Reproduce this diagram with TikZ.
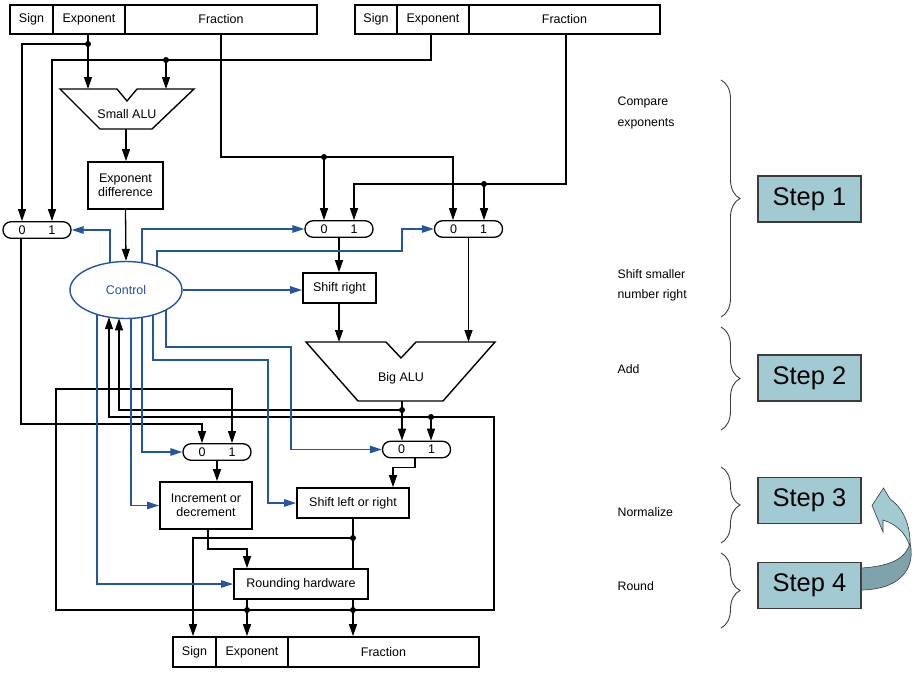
\documentclass[tikz,border=0pt]{standalone}
\usepackage{fontspec}
\setmainfont{Liberation Sans}
\usetikzlibrary{arrows.meta,calc,shapes.geometric,decorations.pathreplacing}
\definecolor{cblue}{RGB}{35,85,160}
\definecolor{stepfill}{RGB}{161,202,211}
\definecolor{stepdark}{RGB}{127,163,172}
\definecolor{braceg}{RGB}{60,60,60}
\begin{document}
\begin{tikzpicture}[x=1pt,y=-1pt,
  line width=1.3pt,
  font=\fontsize{12.5}{14.5}\selectfont,
  reg/.style={draw,line width=1.8pt,minimum height=29pt,inner sep=0pt},
  box/.style={draw,line width=1.8pt,inner sep=0pt,align=center,fill=white},
  mux/.style={draw,line width=1.3pt,rounded corners=8pt,minimum width=68pt,minimum height=16.5pt,inner sep=0pt,fill=white},
  arr/.style={-{Triangle[length=12pt,width=8pt]}},
  barr/.style={draw=cblue,-{Triangle[length=12pt,width=7.5pt,fill=cblue]}},
  dot/.style={circle,fill,inner sep=0pt,minimum size=6pt},
  stepbox/.style={draw=braceg,line width=1.3pt,fill=stepfill,minimum width=103pt,minimum height=46pt,inner sep=0pt,font=\fontsize{25.5}{28}\selectfont},
  lab/.style={anchor=west,align=left,inner sep=0pt,font=\fontsize{12.3}{20.5}\selectfont},
  brc/.style={decorate,decoration={brace,amplitude=19pt},line width=0.9pt,draw=braceg}
]
\useasboundingbox (0,0) rectangle (916,675);

% ---------- registers ----------
\node[reg,minimum width=43pt] (r1s) at (31.5,19.5) {Sign};
\node[reg,minimum width=72pt] (r1e) at (89,19.5) {Exponent};
\node[reg,minimum width=192pt] (r1f) at (221,19.5) {Fraction};
\node[reg,minimum width=42pt] (r2s) at (376,19.5) {Sign};
\node[reg,minimum width=72pt] (r2e) at (433,19.5) {Exponent};
\node[reg,minimum width=191pt] (r2f) at (564.5,19.5) {Fraction};
\node[reg,minimum width=43pt,minimum height=30pt] (r3s) at (194.5,652) {Sign};
\node[reg,minimum width=72pt,minimum height=30pt] (r3e) at (252,652) {Exponent};
\node[reg,minimum width=191pt,minimum height=30pt] (r3f) at (383.5,652) {Fraction};

% ---------- ALUs ----------
\draw[line width=1.4pt] (60,89) -- (117,89) -- (127,101) -- (137,89) -- (194,89) -- (152,129) -- (100,129) -- cycle;
\node (salu) at (127,114) {Small ALU};
\coordinate (saluL) at (88,89);
\coordinate (saluR) at (166,89);
\coordinate (saluO) at (126,129);
\draw[line width=1.4pt] (306,342) -- (386,342) -- (401,358) -- (416,342) -- (495,342) -- (443,401) -- (358,401) -- cycle;
\node (balu) at (401,378) {Big ALU};
\coordinate (baluO) at (402,401);

% ---------- boxes ----------
\node[box,minimum width=75pt,minimum height=47pt] (ediff) at (125.5,185.5) {Exponent\\difference};
\node[ellipse,draw=cblue,line width=1.4pt,minimum width=112pt,minimum height=57pt,inner sep=0pt,text=cblue,fill=white] (ctrl) at (126,290) {Control};
\node[box,minimum width=73pt,minimum height=30pt] (shr) at (339.5,288) {Shift right};
\node[box,minimum width=92pt,minimum height=47pt] (incdec) at (206,505.5) {Increment or\\decrement};
\node[box,minimum width=112pt,minimum height=30pt] (shlr) at (353,503) {Shift left or right};
\node[box,minimum width=134pt,minimum height=30pt] (rnd) at (301,584) {Rounding hardware};

% ---------- multiplexors ----------
\node[mux] (m1) at (37,230) {0\hspace{23pt}1};
\node[mux] (m2) at (339,229) {0\hspace{23pt}1};
\node[mux] (m3) at (468.5,229) {0\hspace{23pt}1};
\node[mux] (m4) at (416.5,449.5) {0\hspace{23pt}1};
\node[mux] (m5) at (217,452) {0\hspace{23pt}1};

% ---------- junctions ----------
\coordinate (j1) at (88,44);
\coordinate (j2) at (166,60);
\coordinate (j3) at (324,157);
\coordinate (j4) at (484,184);
\coordinate (j5) at (402,410);
\coordinate (j6) at (247,610);
\coordinate (j7) at (353,610);
\coordinate (j8) at (431,417);
\coordinate (j9) at (353,538);
\coordinate (cin1) at ($(ctrl.center)+(-7,28.3)$);
\coordinate (cin2) at ($(ctrl.center)+(-17,27.2)$);
\coordinate (k1) at (21,424);
\coordinate (k2) at (56,610);
\coordinate (k3) at (56,389);
\coordinate (k4) at (494,610);
\coordinate (k5) at (494,417);

% ---------- black connectors ----------
\draw[arr] (r1e.south -| j1) -- (j1) -- (saluL);
\draw[arr] (j1) -| ($(m1.north)+(-15,0)$);
\draw[arr] ($(r2e.south)+(-2,0)$) |- (j2) -| ($(m1.north)+(15,0)$);
\draw[arr] (j2) -- (saluR);
\draw[arr] (saluO) -- (saluO |- ediff.north);
\draw[arr] (ediff.south) -- (ctrl.north);
\draw[arr] (r1f.south) |- (j3) -| ($(m3.north)+(-15.5,0)$);
\draw[arr] (j3) -- ($(m2.north)+(-15,0)$);
\draw[arr] ($(r2f.south)+(1.5,0)$) |- (j4) -| ($(m2.north)+(15,0)$);
\draw[arr] (j4) -- ($(m3.north)+(15.5,0)$);
\draw[arr] (m2.south) -- (m2.south |- shr.north);
\draw[arr] (m3.south) -- (m3.south |- 0,342);
\draw[arr] (shr.south -| m2.south) -- (m2.south |- 0,342);
\draw[arr] (baluO) -- ($(m4.north)+(-14.5,0)$);
\draw[arr] (j5) -| (cin1);
\draw[arr] ($(m1.south)+(-16,0)$) -- (k1) -| ($(m5.north)+(-15,0)$);
\draw (j6) -- (j7);
\draw[arr] (j6) -- (k2) -- (k3) -| ($(m5.north)+(15,0)$);
\draw[arr] (j7) -- (k4) -- (k5) -| (cin2);
\draw[arr] (j8) -- ($(m4.north)+(14.5,0)$);
\draw[arr] (m5.south) -- (m5.south |- incdec.north);
\draw[arr] ($(m4.south)+(-1.5,0)$) -- ++(0,9) -| ($(shlr.north)+(40,0)$);
\draw[arr] ($(incdec.south)+(2,0)$) -- ++(0,19) -| ($(rnd.north)+(-54,0)$);
\draw[line width=1.8pt] (shlr.south) -- (shlr.south |- rnd.north);
\draw[arr] (j9) -| ($(r3s.north)+(-1.5,0)$);
\draw[arr] ($(rnd.south)+(-54,0)$) -- ($(r3e.north)+(-5,0)$);
\draw[arr] ($(rnd.south)+(52,0)$) -- ($(r3f.north)+(-30.5,0)$);
\foreach \j in {j1,j2,j3,j4,j5,j6,j7,j8,j9} \node[dot] at (\j) {};

% ---------- control (blue) connectors ----------
\coordinate (b3) at (402,251);
\coordinate (b8) at (268,360);
\coordinate (b9) at (291,347);
\draw[barr] ($(ctrl.center)+(-16,-27.3)$) |- (m1.east);
\draw[barr] ($(ctrl.center)+(16,-27.3)$) |- (m2.west);
\draw[barr] ($(ctrl.center)+(31,-23.7)$) |- (b3) |- (m3.west);
\draw[barr] (ctrl.east) -- (ctrl.east -| shr.west);
\draw[barr] ($(ctrl.center)+(-29,24.4)$) |- (rnd.west);
\draw[barr] ($(ctrl.center)+(5,28.4)$) |- (incdec.west);
\draw[barr] ($(ctrl.center)+(16,27.3)$) |- (m5.west);
\draw[barr] ($(ctrl.center)+(27,25)$) |- (b8) |- (shlr.west);
\draw[barr] ($(ctrl.center)+(40,19.9)$) |- (b9) |- (m4.west);

% ---------- right side ----------
\node[lab] (t1) at (617,113) {Compare\\exponents};
\node[lab] (t2) at (617,285.5) {Shift smaller\\number right};
\node[lab] (t3) at (617,369) {Add};
\node[lab] (t4) at (617,512) {Normalize};
\node[lab] (t5) at (617,586) {Round};
\draw[brc] (721,80) -- (721,317);
\draw[brc] (721,327) -- (721,430);
\draw[brc] (721,467) -- (721,543);
\draw[brc] (721,553) -- (721,628);
\node[stepbox] (s1) at (809.5,199) {Step 1};
\node[stepbox] (s2) at (809.5,378) {Step 2};
\node[stepbox] (s3) at (809.5,500.5) {Step 3};
\node[stepbox] (s4) at (809.5,585.5) {Step 4};
% curved block arrow from Step 4 to Step 3
\filldraw[fill=stepfill,draw=braceg,line width=0.6pt] (890,499) .. controls (903,508) and (911,525) .. (910,547) .. controls (906,533) and (896,524) .. (883,520) -- (883,532) -- (872,505.5) -- (883.5,488) -- cycle;
\filldraw[fill=stepdark,draw=braceg,line width=0.6pt] (s4.east |- 0,568) .. controls (892,566) and (906,558) .. (910,543) .. controls (915,563) and (906,589) .. (s4.east |- 0,590) -- cycle;
\end{tikzpicture}
\end{document}
